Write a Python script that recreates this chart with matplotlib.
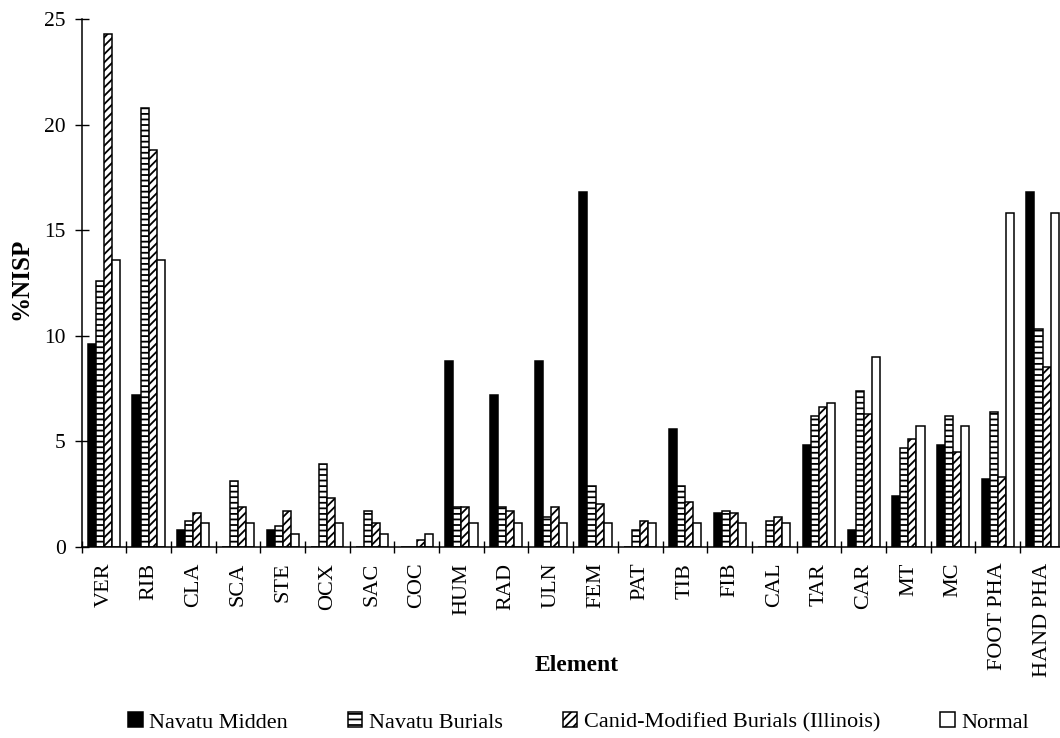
import numpy as np
import matplotlib
matplotlib.use('Agg')
import matplotlib.pyplot as plt

plt.rcParams['font.family'] = ['Liberation Serif', 'DejaVu Serif']
plt.rcParams['hatch.linewidth'] = 1.3

elements = ['VER', 'RIB', 'CLA', 'SCA', 'STE', 'OCX', 'SAC', 'COC', 'HUM', 'RAD', 'ULN',
            'FEM', 'PAT', 'TIB', 'FIB', 'CAL', 'TAR', 'CAR', 'MT', 'MC', 'FOOT PHA', 'HAND PHA']

navatu_midden = [9.6, 7.2, 0.8, 0.0, 0.8, 0.0, 0.0, 0.0, 8.8, 7.2, 8.8,
                 16.8, 0.0, 5.6, 1.6, 0.0, 4.8, 0.8, 2.4, 4.8, 3.2, 16.8]
navatu_burials = [12.6, 20.8, 1.2, 3.1, 1.0, 3.9, 1.7, 0.0, 1.9, 1.9, 1.4,
                  2.9, 0.8, 2.9, 1.7, 1.2, 6.2, 7.4, 4.7, 6.2, 6.4, 10.3]
canid_modified = [24.3, 18.8, 1.6, 1.9, 1.7, 2.3, 1.1, 0.3, 1.9, 1.7, 1.9,
                  2.0, 1.2, 2.1, 1.6, 1.4, 6.6, 6.3, 5.1, 4.5, 3.3, 8.5]
normal = [13.6, 13.6, 1.1, 1.1, 0.6, 1.1, 0.6, 0.6, 1.1, 1.1, 1.1,
          1.1, 1.1, 1.1, 1.1, 1.1, 6.8, 9.0, 5.7, 5.7, 15.8, 15.8]

series = [('Navatu Midden', navatu_midden, 'black', ''),
          ('Navatu Burials', navatu_burials, 'white', '---'),
          ('Canid-Modified Burials (Illinois)', canid_modified, 'white', '////'),
          ('Normal', normal, 'white', '')]

fig = plt.figure(figsize=(10.6, 7.38), dpi=100)
ax = fig.add_axes([0.0769, 0.2592, 0.9277, 0.715])

x = np.arange(len(elements))
width = 0.18
bars = []
for k, (name, vals, fc, hatch) in enumerate(series):
    b = ax.bar(x + (k - 1.5) * width, vals, width, color=fc, edgecolor='black',
               hatch=hatch, linewidth=1.1, label=name)
    bars.append(b)

ax.set_xlim(-0.5, len(elements) - 0.5)
ax.set_ylim(0, 25)
ax.set_yticks([0, 5, 10, 15, 20, 25])
ax.tick_params(axis='y', direction='inout', length=9.4, width=1, pad=6.8, labelsize=15.5)

ax.set_xticks(x)
ax.set_xticklabels(elements, rotation=90, fontsize=16)
ax.tick_params(axis='x', which='major', length=0, pad=11.5)
ax.set_xticks(np.arange(len(elements) + 1) - 0.5, minor=True)
ax.tick_params(axis='x', which='minor', direction='inout', length=8.6, width=1)

for s in ['top', 'right']:
    ax.spines[s].set_visible(False)
for s in ['left', 'bottom']:
    ax.spines[s].set_linewidth(1.1)

ax.set_ylabel('%NISP', fontsize=18, fontweight='bold')
ax.yaxis.set_label_coords(-0.0504, 0.507)
ax.set_xlabel('Element', fontsize=17, fontweight='bold')
ax.xaxis.set_label_coords(0.504, -0.205)

fig.legend([b[0] for b in bars], [s[0] for s in series], loc='center',
           bbox_to_anchor=(0.546, 0.021), ncol=4, frameon=False, fontsize=16,
           handlelength=0.65, handleheight=0.65, handletextpad=0.3, columnspacing=2.7)

fig.savefig('out.png', dpi=100)
